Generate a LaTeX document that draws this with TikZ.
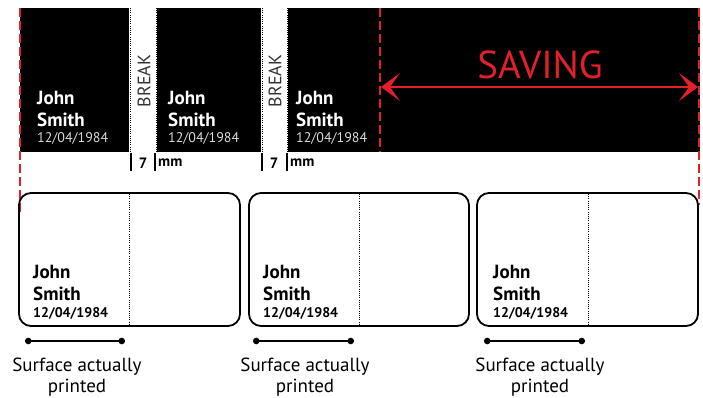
\documentclass[tikz,border=0pt]{standalone}
\usepackage{fontspec}
\setmainfont{PT Sans}
\usetikzlibrary{arrows.meta}
\definecolor{savingred}{HTML}{E3202A}
\definecolor{dategray}{HTML}{D9D9D9}

\begin{document}
\begin{tikzpicture}[x = 1pt, y = -1pt]
\tikzstyle{nameStyle} = [anchor = base west, inner sep = 0pt, font = \fontsize{19}{22}\selectfont\bfseries]
\tikzstyle{dateStyle} = [anchor = base west, inner sep = 0pt, font = \fontsize{14}{16}\selectfont, text = dategray]
\tikzstyle{cardDateStyle} = [anchor = base west, inner sep = 0pt, font = \fontsize{14}{16}\selectfont\bfseries]
\tikzstyle{breakStyle} = [rotate = 90, inner sep = 0pt, font = \fontsize{18}{20}\selectfont, text = black!80]
\tikzstyle{gapStyle} = [inner sep = 0pt, font = \fontsize{15}{17}\selectfont\bfseries]
\tikzstyle{redStyle} = [savingred, line width = 1.6pt, dash pattern = on 9pt off 4pt]
\tikzstyle{cardStyle} = [line width = 1.8pt, rounded corners = 12pt]
\tikzstyle{splitStyle} = [line width = 1pt, dash pattern = on 1pt off 1.2pt]
\tikzstyle{spanStyle} = [line width = 1.6pt, {Circle[length = 6.5pt]}-{Circle[length = 6.5pt]}]
\tikzstyle{surfaceStyle} = [anchor = north, align = center, inner sep = 0pt, font = \fontsize{19}{21}\selectfont]
\useasboundingbox (0,0) rectangle (703,398);
\fill (20,8) rectangle (129,152);
\fill (157,8) rectangle (261,152);
\fill (288,8) rectangle (700,152);
\draw[splitStyle] (130,8) -- (130,152);
\draw[splitStyle] (156,8) -- (156,152);
\draw[splitStyle] (262,8) -- (262,152);
\draw[splitStyle] (287,8) -- (287,152);
\node[nameStyle, text = white] (n1) at (37,105) {John};
\node[nameStyle, text = white] (s1) at (37,127) {Smith};
\node[dateStyle] (d1) at (37,143) {12/04/1984};
\node[nameStyle, text = white] (n2) at (168,105) {John};
\node[nameStyle, text = white] (s2) at (168,127) {Smith};
\node[dateStyle] (d2) at (168,143) {12/04/1984};
\node[nameStyle, text = white] (n3) at (296,105) {John};
\node[nameStyle, text = white] (s3) at (296,127) {Smith};
\node[dateStyle] (d3) at (296,143) {12/04/1984};
\node[breakStyle] (break1) at (144,81) {BREAK};
\node[breakStyle] (break2) at (275,81) {BREAK};
\draw[line width = 1.5pt] (131,153) -- (131,171);
\draw[line width = 1.5pt] (155,153) -- (155,171);
\draw[line width = 1.5pt] (262,153) -- (262,171);
\draw[line width = 1.5pt] (287,153) -- (287,171);
\node[gapStyle] (gap1) at (143,163) {7};
\node[gapStyle, anchor = west] (mm1) at (158,163) {mm};
\node[gapStyle] (gap2) at (274,163) {7};
\node[gapStyle, anchor = west] (mm2) at (290,163) {mm};
\draw[redStyle] (20,8) -- (20,215);
\draw[redStyle] (380,8) -- (380,152);
\draw[redStyle] (699,8) -- (699,205);
\node[text = savingred, inner sep = 0pt, font = \fontsize{39}{42}\selectfont] (saving) at (540,65) {SAVING};
\coordinate (savingL) at (381,87);
\coordinate (savingR) at (698,87);
\draw[savingred, line width = 2.2pt, {Stealth[length = 19pt, width = 28pt, inset = 10pt]}-{Stealth[length = 19pt, width = 28pt, inset = 10pt]}] (savingL) -- (savingR);
\draw[cardStyle] (19,193) rectangle (240,326);
\draw[cardStyle] (249,193) rectangle (469,326);
\draw[cardStyle] (477,193) rectangle (698,326);
\draw[splitStyle] (129,194) -- (129,325);
\draw[splitStyle] (359,194) -- (359,325);
\draw[splitStyle] (588,194) -- (588,325);
\node[nameStyle] (cn1) at (33,278) {John};
\node[nameStyle] (cs1) at (33,300) {Smith};
\node[cardDateStyle] (cd1) at (33,317) {12/04/1984};
\node[nameStyle] (cn2) at (263,278) {John};
\node[nameStyle] (cs2) at (263,300) {Smith};
\node[cardDateStyle] (cd2) at (263,317) {12/04/1984};
\node[nameStyle] (cn3) at (493,278) {John};
\node[nameStyle] (cs3) at (493,300) {Smith};
\node[cardDateStyle] (cd3) at (493,317) {12/04/1984};
\coordinate (p1) at (25,341);
\coordinate (q1) at (125,341);
\coordinate (p2) at (253,341);
\coordinate (q2) at (354,341);
\coordinate (p3) at (484,341);
\coordinate (q3) at (585,341);
\draw[spanStyle] (p1) -- (q1);
\draw[spanStyle] (p2) -- (q2);
\draw[spanStyle] (p3) -- (q3);
\node[surfaceStyle] (sf1) at (77,358) {Surface actually\\printed};
\node[surfaceStyle] (sf2) at (305,358) {Surface actually\\printed};
\node[surfaceStyle] (sf3) at (540,358) {Surface actually\\printed};
\end{tikzpicture}
\end{document}
